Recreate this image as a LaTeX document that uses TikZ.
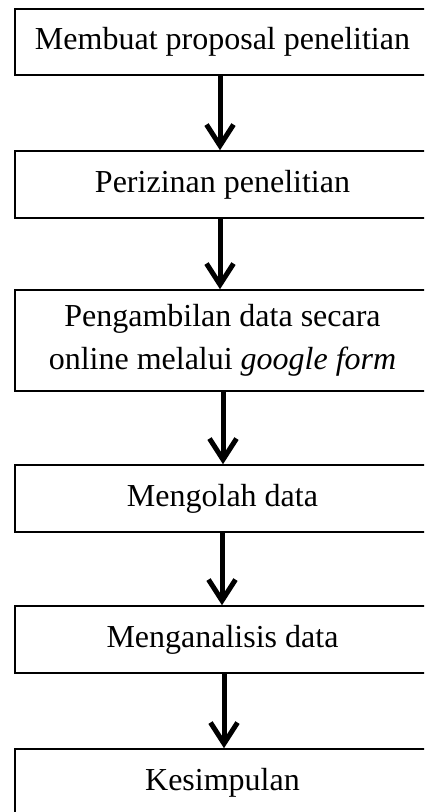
\documentclass[tikz,border=0pt]{standalone}
\usepackage{fontspec}
\setmainfont{Liberation Serif}
\usetikzlibrary{arrows.meta}
\begin{document}
\begin{tikzpicture}[x=1pt,y=1pt,
  box/.style={draw=black, line width=1.6pt, inner sep=0pt, minimum width=415pt, align=center,
    font=\fontsize{32}{43}\selectfont},
  flow/.style={line width=5pt, -{Straight Barb[length=21pt, width=27pt, line width=5pt]}}]
\useasboundingbox (0,0) rectangle (424,-812);
\clip (0,0) rectangle (424,-812);
\node[box, minimum height=66pt] (b1) at (222.5,-42) {Membuat proposal penelitian};
\node[box, minimum height=67pt] (b2) at (222.5,-184.5) {Perizinan penelitian};
\node[box, minimum height=101pt] (b3) at (222.5,-340.5) {Pengambilan data secara\\online melalui \textit{google form}};
\node[box, minimum height=67pt] (b4) at (222.5,-498.5) {Mengolah data};
\node[box, minimum height=67pt] (b5) at (222.5,-639.5) {Menganalisis data};
\node[box, minimum height=67pt] (b6) at (222.5,-782.5) {Kesimpulan};
\coordinate (aw) at (220,0);
\draw[flow] (b1.south -| aw) -- (b2.north -| aw);
\draw[flow] (b2.south -| aw) -- (b3.north -| aw);
\coordinate (ax) at (223,0);
\draw[flow] (b3.south -| ax) -- (b4.north -| ax);
\coordinate (ay) at (222,0);
\draw[flow] (b4.south -| ay) -- (b5.north -| ay);
\coordinate (az) at (224,0);
\draw[flow] (b5.south -| az) -- (b6.north -| az);
\end{tikzpicture}
\end{document}
